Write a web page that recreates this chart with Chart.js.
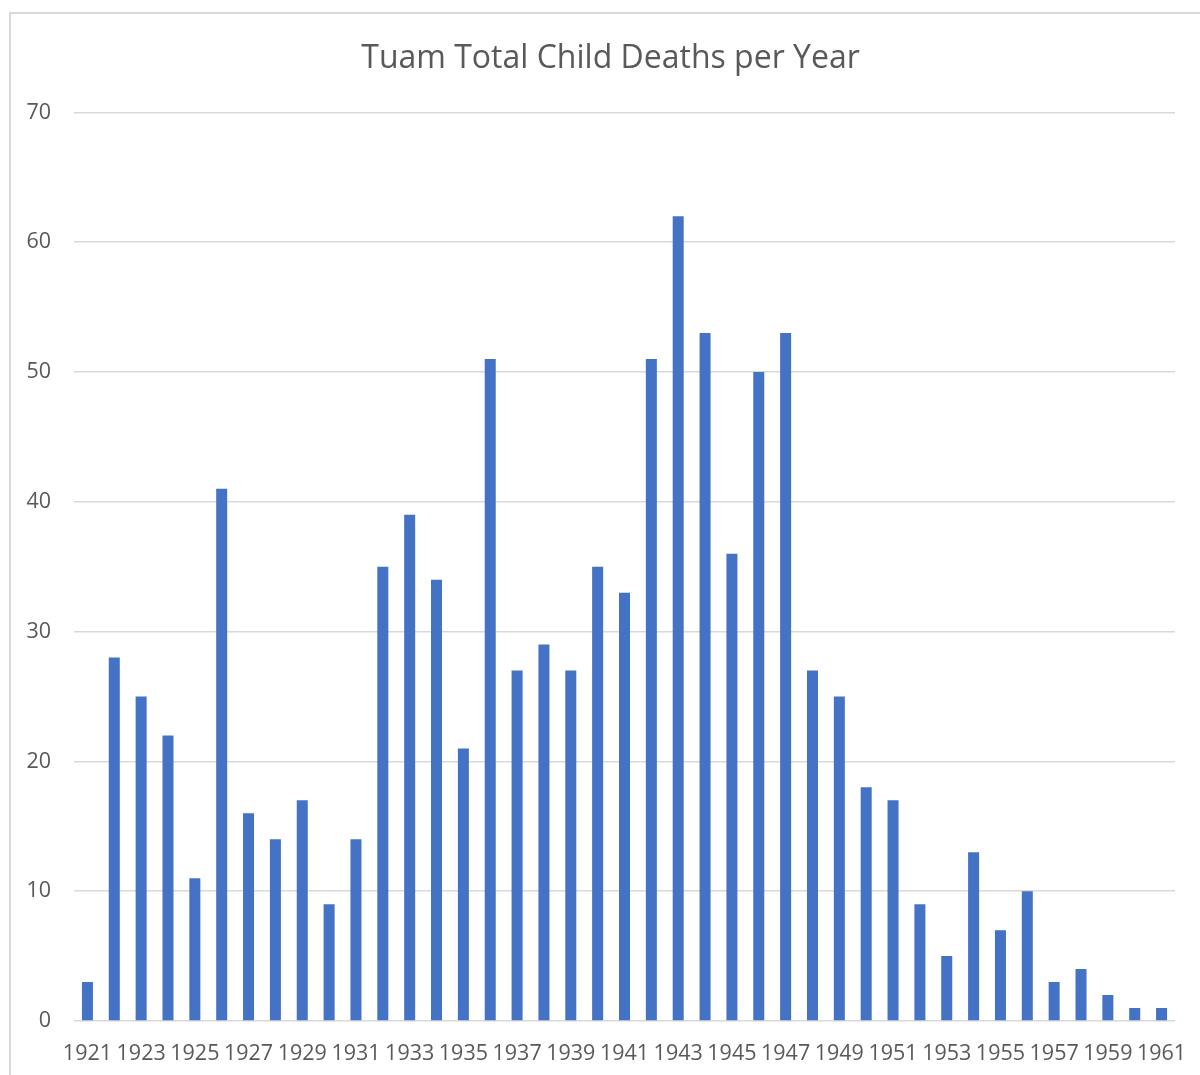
<!DOCTYPE html>
<html>
<head>
<meta charset="utf-8">
<script src="https://cdn.jsdelivr.net/npm/chart.js@4"></script>
<style>
  html, body { margin: 0; padding: 0; background: #ffffff; overflow: hidden; }
  #wrap { position: relative; width: 1200px; height: 1075px; }
  #frame { position: absolute; left: 9px; top: 12px; width: 1240px; height: 1120px;
           border: 2px solid #d9d9d9; box-sizing: border-box; }
  #c { position: absolute; left: 0; top: 0; }
</style>
</head>
<body>
<div id="wrap">
  <div id="frame"></div>
  <canvas id="c" width="1200" height="1075"></canvas>
</div>
<script>
// Deaths recorded per year, 1921–1961
const years = [
  '1921','1922','1923','1924','1925','1926','1927','1928','1929','1930',
  '1931','1932','1933','1934','1935','1936','1937','1938','1939','1940',
  '1941','1942','1943','1944','1945','1946','1947','1948','1949','1950',
  '1951','1952','1953','1954','1955','1956','1957','1958','1959','1960','1961'
];
const deaths = [
  3, 28, 25, 22, 11, 41, 16, 14, 17, 9,
  14, 35, 39, 34, 21, 51, 27, 29, 27, 35,
  33, 51, 62, 53, 36, 50, 53, 27, 25, 18,
  17, 9, 5, 13, 7, 10, 3, 4, 2, 1, 1
];
const yTicks = [0, 10, 20, 30, 40, 50, 60, 70];

const textColor = '#595959';
const gridColor = '#d9d9d9';
const barColor = '#4472c4';
const fontFamily = "'Open Sans', 'Liberation Sans', sans-serif";

// Centre the title over the framed panel rather than the whole canvas
const titleInset = {
  id: 'titleInset',
  afterLayout(chart) {
    if (chart.titleBlock) chart.titleBlock.left = 46;
  }
};

new Chart(document.getElementById('c'), {
  type: 'bar',
  data: {
    labels: years,
    datasets: [{
      label: 'Deaths',
      data: deaths,
      backgroundColor: barColor,
      borderWidth: 0,
      categoryPercentage: 1,
      barPercentage: 0.41
    }]
  },
  plugins: [titleInset],
  options: {
    responsive: false,
    animation: false,
    devicePixelRatio: 1,
    layout: { padding: { top: 0, left: 0, right: 25, bottom: 11 } },
    plugins: {
      legend: { display: false },
      tooltip: { enabled: false },
      title: {
        display: true,
        text: 'Tuam Total Child Deaths per Year',
        color: textColor,
        font: { family: fontFamily, size: 32, weight: 'normal' },
        padding: { top: 40, bottom: 34 }
      }
    },
    scales: {
      x: {
        afterFit: function (axis) {
          axis.height = 43;
          axis.paddingLeft = 0;
          axis.paddingRight = 0;
        },
        grid: { display: false, drawTicks: false },
        border: { display: false },
        ticks: {
          color: textColor,
          font: { family: fontFamily, size: 21.5 },
          padding: 20,
          autoSkip: false,
          maxRotation: 0,
          minRotation: 0,
          callback: function (value, index) {
            return index % 2 === 0 ? years[index] : '';
          }
        }
      },
      y: {
        min: 0,
        max: 70,
        afterBuildTicks: function (axis) {
          axis.ticks = yTicks.map(v => ({ value: v }));
        },
        afterFit: function (axis) { axis.width = 74; },
        grid: { color: gridColor, lineWidth: 1.5, drawTicks: false },
        border: { display: false },
        ticks: {
          color: textColor,
          font: { family: fontFamily, size: 21.5 },
          padding: 23
        }
      }
    }
  }
});
</script>
</body>
</html>
